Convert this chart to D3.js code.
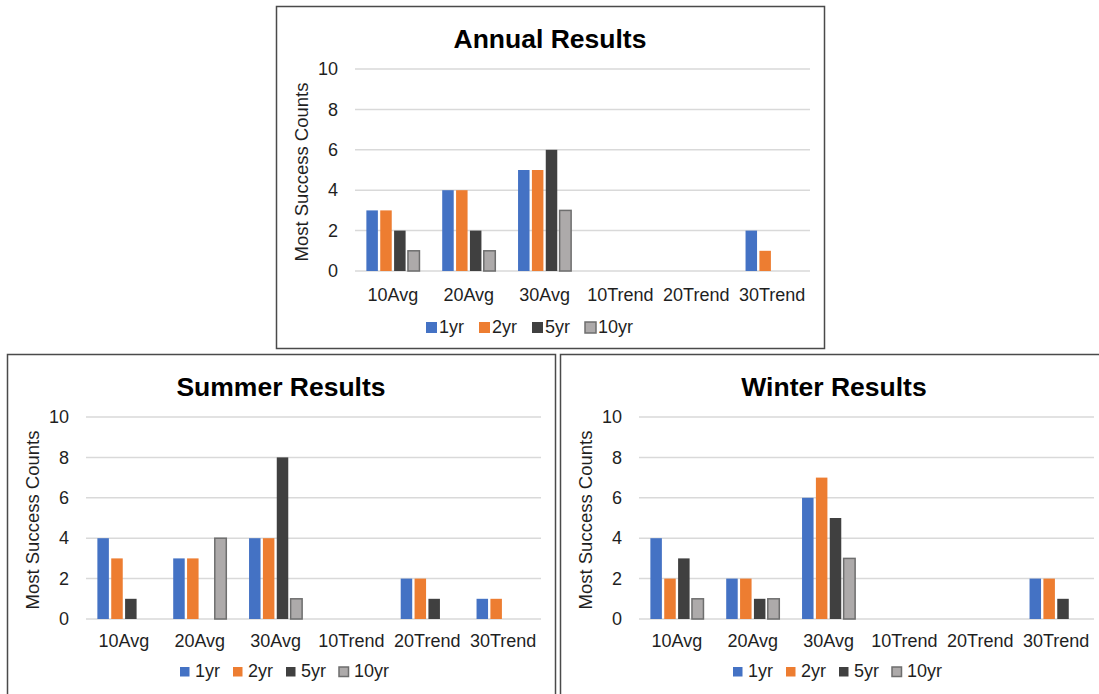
<!DOCTYPE html>
<html>
<head>
<meta charset="utf-8">
<script src="https://cdn.jsdelivr.net/npm/d3@7"></script>
<style>
  html, body { margin: 0; padding: 0; background: #fff; }
  svg { display: block; font-family: "Liberation Sans", Arial, sans-serif; }
</style>
</head>
<body>
<svg id="chart" width="1099" height="694"></svg>
<script>
// ---- Data ----
const categories = ["10Avg", "20Avg", "30Avg", "10Trend", "20Trend", "30Trend"];
const seriesNames = ["1yr", "2yr", "5yr", "10yr"];
const yTicks = [0, 2, 4, 6, 8, 10];

const annual1yr  = [3, 4, 5, 0, 0, 2];
const annual2yr  = [3, 4, 5, 0, 0, 1];
const annual5yr  = [2, 2, 6, 0, 0, 0];
const annual10yr = [1, 1, 3, 0, 0, 0];

const summer1yr  = [4, 3, 4, 0, 2, 1];
const summer2yr  = [3, 3, 4, 0, 2, 1];
const summer5yr  = [1, 0, 8, 0, 1, 0];
const summer10yr = [0, 4, 1, 0, 0, 0];

const winter1yr  = [4, 2, 6, 0, 0, 2];
const winter2yr  = [2, 2, 7, 0, 0, 2];
const winter5yr  = [3, 1, 5, 0, 0, 1];
const winter10yr = [1, 1, 3, 0, 0, 0];

const charts = [
  { title: "Annual Results", series: [annual1yr, annual2yr, annual5yr, annual10yr],
    bx: 276, by: 6, catDy: 30, legDy: 62, legSq: 11, legX: 150, legTextDx: 13 },
  { title: "Summer Results", series: [summer1yr, summer2yr, summer5yr, summer10yr],
    bx: 7, by: 354, catDy: 28, legDy: 57.5, legSq: 9.5, legX: 173, legTextDx: 15 },
  { title: "Winter Results", series: [winter1yr, winter2yr, winter5yr, winter10yr],
    bx: 560, by: 354, catDy: 28, legDy: 57.5, legSq: 9.5, legX: 173, legTextDx: 15 }
];

const colors = { "1yr": "#4472C4", "2yr": "#ED7D31", "5yr": "#404040", "10yr": "#ADAAAA" };
const strokes = { "1yr": "none", "2yr": "none", "5yr": "none", "10yr": "#6E6E6E" };

const svg = d3.select("#chart");
const BW = 548, BH = 342;

charts.forEach(c => {
  const g = svg.append("g").attr("transform", `translate(${c.bx},${c.by})`);

  g.append("rect")
    .attr("x", 0.5).attr("y", 0.5).attr("width", BW).attr("height", BH)
    .attr("fill", "#fff").attr("stroke", "#4a4a4a").attr("stroke-width", 1.5);

  const left = 79, right = 534, yTop = 63, yBot = 265;

  const x0 = d3.scaleBand().domain(categories).range([left, right])
    .paddingInner(0.30).paddingOuter(0.15);
  const x1 = d3.scaleBand().domain(seriesNames).range([0, x0.bandwidth()])
    .paddingInner(0.17).paddingOuter(0);
  const y = d3.scaleLinear().domain([0, 10]).range([yBot, yTop]);

  // gridlines
  g.append("g").selectAll("line").data(yTicks).join("line")
    .attr("x1", left).attr("x2", right)
    .attr("y1", d => y(d)).attr("y2", d => y(d))
    .attr("stroke", "#D9D9D9").attr("stroke-width", 1.5);

  // y axis labels
  const yAxis = d3.axisLeft(y).tickValues(yTicks).tickSize(0).tickPadding(0);
  const ya = g.append("g").attr("transform", `translate(62,0)`).call(yAxis);
  ya.select(".domain").remove();
  ya.selectAll("text").attr("font-size", 18).attr("fill", "#1f1f1f")
    .attr("font-family", "Liberation Sans, Arial, sans-serif");

  // x axis labels
  const xAxis = d3.axisBottom(x0).tickSize(0).tickPadding(0);
  const xa = g.append("g").attr("transform", `translate(0,${yBot})`).call(xAxis);
  xa.select(".domain").remove();
  xa.selectAll("text").attr("font-size", 18).attr("fill", "#1f1f1f")
    .attr("dy", null).attr("y", c.catDy)
    .attr("font-family", "Liberation Sans, Arial, sans-serif");

  // bars
  const rows = [];
  c.series.forEach((vals, si) => {
    vals.forEach((v, ci) => {
      if (v > 0) rows.push({ cat: categories[ci], key: seriesNames[si], v });
    });
  });
  g.append("g").selectAll("rect").data(rows).join("rect")
    .attr("x", d => x0(d.cat) + x1(d.key))
    .attr("y", d => y(d.v))
    .attr("width", x1.bandwidth())
    .attr("height", d => y(0) - y(d.v))
    .attr("fill", d => colors[d.key])
    .attr("stroke", d => strokes[d.key])
    .attr("stroke-width", 1.5);

  // title
  g.append("text")
    .attr("x", 274).attr("y", 41.5)
    .attr("text-anchor", "middle")
    .attr("font-size", 26.5).attr("font-weight", "bold").attr("fill", "#000")
    .text(c.title);

  // y axis title
  g.append("text")
    .attr("transform", `translate(32,${(yTop + yBot) / 2 + 2}) rotate(-90)`)
    .attr("text-anchor", "middle")
    .attr("font-size", 18.5).attr("fill", "#1f1f1f")
    .text("Most Success Counts");

  // legend
  const step = 53;
  const leg = g.append("g").selectAll("g").data(seriesNames).join("g")
    .attr("transform", (d, i) => `translate(${c.legX + i * step},${yBot + c.legDy})`);
  leg.append("rect")
    .attr("x", 0).attr("y", -c.legSq).attr("width", c.legSq).attr("height", c.legSq)
    .attr("fill", d => colors[d])
    .attr("stroke", d => strokes[d]).attr("stroke-width", 1.5);
  leg.append("text")
    .attr("x", c.legTextDx).attr("y", 0)
    .attr("font-size", 18).attr("fill", "#1f1f1f")
    .text(d => d);
});
</script>
</body>
</html>
